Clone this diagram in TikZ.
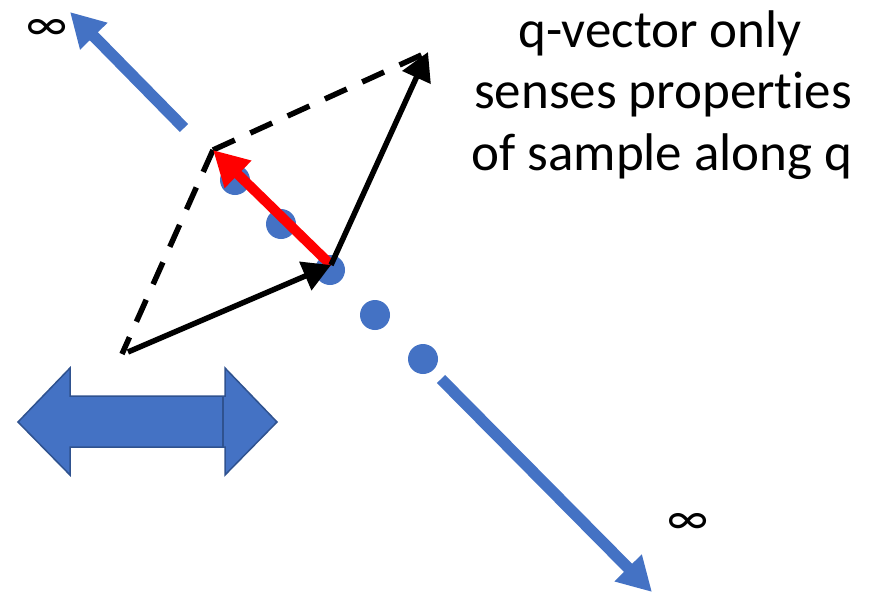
\documentclass[tikz,border=0pt]{standalone}
\usepackage{fontspec}
\setmainfont[Ligatures={NoCommon}]{Carlito}
\usetikzlibrary{arrows.meta}
\definecolor{pblue}{HTML}{4472C4}
\definecolor{pedge}{HTML}{2F528F}
\definecolor{pred}{HTML}{FF0000}
\begin{document}
\begin{tikzpicture}[x=1pt,y=-1pt,
  dot/.style={circle,fill=pblue,inner sep=0pt,minimum size=30pt},
  bluearrow/.style={draw=pblue,line width=11.5pt,-{Triangle[length=34pt,width=36pt]}},
  blackarrow/.style={draw=black,line width=5.5pt,-{Triangle[length=28pt,width=30pt]}},
  redarrow/.style={draw=pred,line width=10pt,-{Triangle[length=35pt,width=36pt]}},
  dashline/.style={draw=black,line width=5.5pt,dash pattern=on 24pt off 17pt},
  bigtext/.style={anchor=base,inner sep=0pt,font=\fontsize{53}{62}\selectfont},
  inftext/.style={inner sep=0pt,font=\fontsize{48}{56}\selectfont}]
\useasboundingbox (0,0) rectangle (884,598);
% coordinates
\coordinate (ul1) at (184,128);
\coordinate (ul2) at (70,12);
\coordinate (lr1) at (441,379);
\coordinate (lr2) at (652,592);
\coordinate (O) at (122,354);
\coordinate (S) at (128,352);
\coordinate (A) at (331,265);
\coordinate (C) at (213,150);
\coordinate (B) at (428,52);
% dots
\node[dot] (d1) at (235,180) {};
\node[dot] (d2) at (281,224) {};
\node[dot] (d3) at (330,270) {};
\node[dot] (d4) at (375,315) {};
\node[dot] (d5) at (423,359) {};
% blue arrows
\draw[bluearrow] (ul1) -- (ul2);
\draw[bluearrow] (lr1) -- (lr2);
% dashed
\draw[dashline] (C) -- (B);
\draw[dashline] (C) -- (O);
% red arrow
\draw[redarrow] (A) -- (C);
% black arrows
\draw[blackarrow] (S) -- (A);
\draw[blackarrow] (A) -- (B);
% double arrow
\draw[pedge,fill=pblue,line width=1.5pt,line join=miter]
  (18,422) -- (70,368) -- (70,396) -- (225,396) -- (225,368) -- (277,422)
  -- (225,475) -- (225,447) -- (70,447) -- (70,475) -- cycle;
\draw[pedge,line width=1.5pt] (223,396) -- (223,447);
% texts
\node[inftext] (inf1) at (47,30) {∞};
\node[inftext] (inf2) at (688,524) {∞};
\node[bigtext] (t1) at (660,47) {q-vector only};
\node[bigtext] (t2) at (663,108) {senses propert\kern0pt ies};
\node[bigtext] (t3) at (662,170) {of sample along q};
\end{tikzpicture}
\end{document}
